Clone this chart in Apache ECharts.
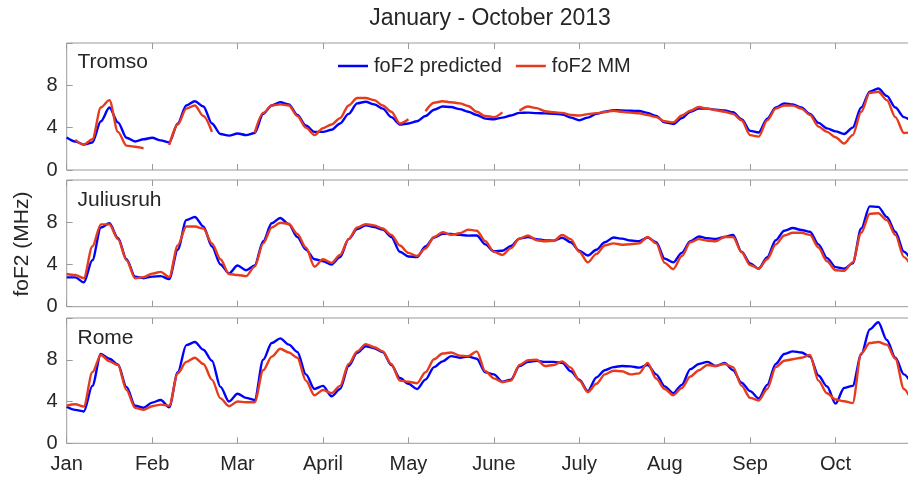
<!DOCTYPE html>
<html>
<head>
<meta charset="utf-8">
<script src="https://cdn.jsdelivr.net/npm/echarts@6/dist/echarts.min.js"></script>
<style>
html,body{margin:0;padding:0;background:#fff;}
#chart{width:908px;height:477px;}
</style>
</head>
<body>
<div id="chart"></div>
<script>
// Sample spacing: one value every 3 days (months drawn as 30-day spans)
const dayStep = 3;
const monthLabels = ['Jan','Feb','Mar','April','May','June','July','Aug','Sep','Oct'];
const stations = ['Tromso','Juliusruh','Rome'];
const seriesNames = ['foF2 predicted','foF2 MM'];
const yTicks = [0,4,8,12];

const tromsoPred = [
 3.08,2.7,2.4,2.6,4.6,5.9,4.5,3.05,2.7,2.9,
 3.05,2.8,2.6,4.4,6.1,6.5,6.0,4.4,3.4,3.25,
 3.45,3.3,3.5,5.3,6.1,6.4,6.2,5.2,4.2,3.6,
 3.6,3.8,4.4,5.3,6.3,6.45,6.2,5.8,5.0,4.3,
 4.4,4.6,5.1,5.7,6.0,5.95,5.75,5.5,5.2,4.85,
 4.8,4.95,5.15,5.4,5.42,5.37,5.35,5.32,5.25,4.95,
 4.7,4.95,5.3,5.5,5.66,5.62,5.6,5.57,5.4,5.1,
 4.5,4.35,4.9,5.5,5.8,5.8,5.7,5.62,5.45,4.8,
 3.7,3.55,4.85,5.9,6.3,6.2,5.9,5.3,4.45,3.93,
 3.65,3.4,4.0,5.9,7.4,7.7,7.0,5.9,5.0,4.5
];
const tromsoMM = [
 null,2.85,2.4,2.9,5.9,6.6,3.6,2.3,2.2,2.05,
 null,null,2.36,4.3,5.8,6.1,5.1,3.6,null,null,
 null,null,3.5,5.4,6.1,6.2,6.1,5.1,4.0,3.3,
 3.95,4.3,4.9,6.1,6.8,6.8,6.6,6.1,5.5,4.4,
 4.8,null,5.55,6.35,6.5,6.4,6.3,6.05,5.5,5.1,
 5.0,5.45,null,5.6,6.0,5.85,5.55,5.45,5.4,5.2,
 5.15,5.28,5.37,5.48,5.6,5.5,5.42,5.36,5.2,5.0,
 4.6,4.5,5.15,5.6,5.95,5.8,5.65,5.5,5.3,4.7,
 3.3,3.15,4.7,5.8,6.1,6.08,5.8,5.2,4.1,3.6,
 3.1,2.5,3.3,5.5,7.3,7.4,6.6,5.0,3.5,3.6
];
const juliusruhPred = [
 2.78,2.78,2.3,4.4,7.5,7.9,6.5,4.5,2.85,2.7,
 2.85,2.9,2.62,5.4,8.2,8.5,7.6,5.7,4.0,3.15,
 3.9,3.45,3.9,6.2,7.9,8.4,7.8,6.6,5.4,4.5,
 4.3,4.0,4.7,6.4,7.35,7.72,7.55,7.3,6.6,5.2,
 4.75,4.7,5.7,6.55,6.9,6.9,6.8,6.73,6.75,5.9,
 5.25,5.3,5.75,6.45,6.6,6.4,6.28,6.26,6.53,6.1,
 5.3,4.85,5.4,6.1,6.55,6.45,6.27,6.2,6.55,6.1,
 4.55,4.2,5.1,6.2,6.65,6.48,6.42,6.6,6.8,5.2,
 4.1,3.6,4.7,6.3,7.2,7.45,7.27,7.1,5.9,4.6,
 3.75,3.6,4.1,7.4,9.5,9.45,8.5,7.1,5.2,4.2
];
const juliusruhMM = [
 3.1,3.0,2.7,5.7,7.8,7.8,6.4,4.4,2.7,2.8,
 3.13,3.3,2.8,5.8,7.6,7.6,7.4,6.0,4.5,3.1,
 3.0,2.9,3.8,6.0,7.5,7.95,7.85,6.9,5.6,3.8,
 4.5,4.15,4.9,6.4,7.5,7.82,7.7,7.4,6.8,5.8,
 5.1,4.8,5.5,6.6,7.05,6.8,6.95,7.3,7.2,6.2,
 5.2,4.9,5.55,6.45,6.75,6.3,6.2,6.25,6.8,6.4,
 5.2,4.2,5.0,5.8,6.0,5.87,5.92,6.0,6.6,6.0,
 4.15,3.55,4.8,6.1,6.4,6.25,6.2,6.6,6.6,5.15,
 3.95,3.6,4.5,5.9,6.75,7.0,7.0,6.8,5.6,4.3,
 3.45,3.4,4.2,7.0,8.8,8.85,8.2,6.8,4.7,3.6
];
const romePred = [
 3.5,3.2,3.05,5.5,8.55,8.1,7.55,5.4,3.6,3.4,
 3.9,4.15,3.45,6.8,9.4,9.7,8.96,7.9,5.4,4.0,
 4.75,4.35,4.15,8.0,9.6,10.05,9.45,8.75,6.6,5.2,
 5.5,4.5,5.2,7.4,8.66,9.3,9.1,8.75,7.5,6.25,
 5.7,5.2,6.1,7.3,7.85,8.35,8.2,8.3,8.1,6.8,
 6.6,5.9,6.1,7.4,7.8,7.9,7.8,7.8,7.7,6.9,
 6.1,5.0,6.3,7.0,7.3,7.4,7.37,7.25,7.5,6.6,
 5.45,4.8,5.6,7.1,7.6,7.8,7.4,7.7,7.0,5.8,
 5.0,4.3,5.6,7.6,8.55,8.8,8.7,8.3,6.5,5.44,
 3.8,5.3,5.5,8.5,10.9,11.6,9.9,8.2,6.6,5.5
];
const romeMM = [
 3.6,3.74,3.52,6.8,8.45,7.85,7.5,5.1,3.4,3.2,
 3.55,3.7,3.6,6.7,7.8,8.2,7.6,6.1,4.3,3.55,
 4.0,3.93,3.93,7.0,8.3,9.05,8.7,8.2,6.0,4.6,
 5.1,4.8,5.5,7.6,8.8,9.5,9.2,8.8,7.6,6.0,
 5.9,5.75,6.8,8.05,8.6,8.7,8.4,8.35,8.8,6.9,
 6.22,5.85,6.0,7.5,7.95,8.0,7.4,7.5,7.85,7.25,
 6.0,4.9,5.7,6.6,6.95,6.9,6.6,6.7,7.7,6.2,
 5.2,4.6,5.3,6.4,7.0,7.5,7.4,7.6,7.3,5.5,
 4.35,4.1,5.2,7.3,7.9,8.05,8.2,8.45,6.0,4.8,
 4.2,4.02,3.85,8.6,9.6,9.7,9.45,8.1,5.2,3.8
];

const stationData = [
  [tromsoPred, tromsoMM],
  [juliusruhPred, juliusruhMM],
  [romePred, romeMM]
];

const blue = '#0000ff';
const red = '#e63b1c';
const axisGray = '#9a9a9a';
const textColor = '#262626';
const fontFam = '"Liberation Sans", Arial, Helvetica, sans-serif';

const grids = [
  {top: 43, height: 127},
  {top: 180, height: 126.7},
  {top: 318, height: 125.3}
].map(g => Object.assign(g, {
  left: 66.7, width: 854.3, show: true, borderColor: axisGray, borderWidth: 1,
  backgroundColor: 'transparent', containLabel: false, outerBoundsMode: 'none'
}));

const xAxes = [], yAxes = [], series = [];
stationData.forEach((pair, i) => {
  ['bottom','top'].forEach(pos => {
    xAxes.push({
      gridIndex: i, type: 'value', position: pos, min: 0, max: 300, interval: 30,
      axisLine: {show: false},
      axisTick: {show: true, inside: true, length: 6, lineStyle: {color: axisGray}},
      axisLabel: {
        show: pos === 'bottom' && i === 2,
        formatter: v => monthLabels[Math.round(v / 30)] || '',
        fontSize: 20, color: textColor, fontFamily: fontFam, margin: 11
      },
      splitLine: {show: false}
    });
  });
  yAxes.push({
    gridIndex: i, type: 'value', min: yTicks[0], max: yTicks[yTicks.length - 1], interval: 4,
    axisLine: {show: false},
    axisTick: {show: true, inside: true, length: 6, lineStyle: {color: axisGray}},
    axisLabel: {
      fontSize: 20, color: textColor, fontFamily: fontFam, margin: 9,
      formatter: v => (v === 12 ? '' : String(v))
    },
    splitLine: {show: false}
  });
  pair.forEach((vals, k) => {
    series.push({
      name: seriesNames[k], type: 'line',
      xAxisIndex: i * 2, yAxisIndex: i,
      data: vals.map((v, j) => [j * dayStep, v]),
      symbol: 'none', showSymbol: false, connectNulls: false,
      smooth: 0.3, smoothMonotone: 'x',
      lineStyle: {color: k === 0 ? blue : red, width: 2.4},
      itemStyle: {color: k === 0 ? blue : red},
      animation: false, z: 2 + k
    });
  });
});

const labelPos = [62, 200, 338];
const graphics = stations.map((s, i) => ({
  type: 'text', x: 77.5, y: labelPos[i],
  style: {text: s, font: '21px ' + fontFam, fill: textColor, textAlign: 'left', textVerticalAlign: 'middle'},
  z: 10
}));
graphics.push({
  type: 'text', x: 490, y: 19,
  style: {text: 'January - October 2013', font: '23px ' + fontFam, fill: textColor, textAlign: 'center', textVerticalAlign: 'middle'}
});
graphics.push({
  type: 'text', x: 22.5, y: 244, rotation: Math.PI / 2,
  style: {text: 'foF2 (MHz)', font: '21px ' + fontFam, fill: textColor, textAlign: 'center', textVerticalAlign: 'middle'}
});

const chart = echarts.init(document.getElementById('chart'), null, {renderer: 'canvas'});
chart.setOption({
  animation: false,
  backgroundColor: '#ffffff',
  grid: grids,
  xAxis: xAxes,
  yAxis: yAxes,
  legend: {
    data: seriesNames.map(n => ({name: n, icon: 'rect'})),
    left: 333, top: 51, itemWidth: 30, itemHeight: 2.5, itemGap: 14,
    textStyle: {fontSize: 20, color: textColor, fontFamily: fontFam, padding: [0, 0, 0, 1]}
  },
  graphic: graphics,
  series: series
});
</script>
</body>
</html>
